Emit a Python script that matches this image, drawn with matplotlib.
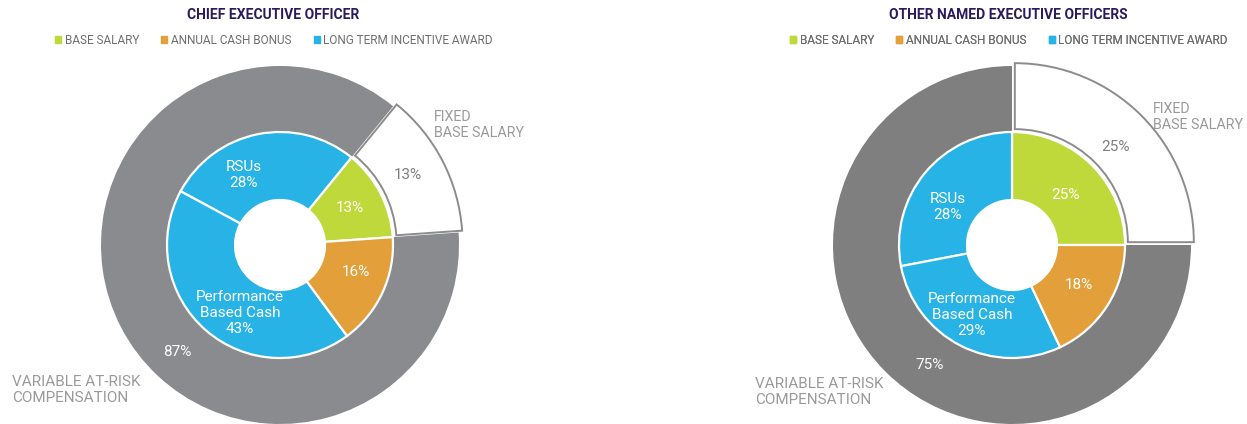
import matplotlib
matplotlib.use('Agg')
import matplotlib.pyplot as plt
from matplotlib.patches import Patch

plt.rcParams['font.family'] = ['Roboto', 'DejaVu Sans']

W, H = 1247, 424

# chart data
titles = ['CHIEF EXECUTIVE OFFICER', 'OTHER NAMED EXECUTIVE OFFICERS']
legend_labels = ['BASE SALARY', 'ANNUAL CASH BONUS', 'LONG TERM INCENTIVE AWARD']
components = ['Base Salary', 'RSUs', 'Performance Based Cash', 'Annual Cash Bonus']
ceo_mix = [13, 28, 43, 16]
neo_mix = [25, 28, 29, 18]
outer_groups = ['FIXED\nBASE SALARY', 'VARIABLE AT-RISK\nCOMPENSATION']
ceo_outer = [13, 87]
neo_outer = [25, 75]

green = '#BFD83A'
orange = '#E3A03A'
blue = '#27B3E6'
navy = '#2A1B5E'
txtgray = '#9A9A9A'
inner_colors = [green, blue, blue, orange]


def Y(y):
    return H - y


fig = plt.figure(figsize=(W / 100, H / 100), dpi=100)
ax = fig.add_axes([0, 0, 1, 1])

charts = [
    # center, start angle, ring gray, data, text positions
    dict(c=(280, 245), start=4, gray='#8A8B8F', mix=ceo_mix, outer=ceo_outer, title=titles[0],
         tx=273, leg=274,
         inner_pos=[(350, 208), (244, 175), (240, 313), (356, 272)],
         wedge_pct=(408, 175), ring_pct=(177, 352),
         fixed_pos=(434, 125), var_pos=(12, 390)),
    dict(c=(1012, 245), start=0, gray='#7F7F7F', mix=neo_mix, outer=neo_outer, title=titles[1],
         tx=1008, leg=1009,
         inner_pos=[(1065, 195), (948, 207), (972, 315), (1079, 285)],
         wedge_pct=(1116, 147), ring_pct=(930, 365),
         fixed_pos=(1153, 117), var_pos=(755, 392)),
]

for ch in charts:
    cx, cy = ch['c'][0], Y(ch['c'][1])

    # outer ring: fixed (white, pulled out) and variable (gray)
    ax.pie(ch['outer'], radius=179, center=(cx, cy), startangle=ch['start'],
           colors=['white', ch['gray']], explode=[4, 0],
           wedgeprops=dict(width=179 - 112, linewidth=0))
    wedges, _ = ax.pie(ch['outer'], radius=179, center=(cx, cy), startangle=ch['start'],
                       colors=['white', 'none'], explode=[4, 0],
                       wedgeprops=dict(width=179 - 113, linewidth=1.4))
    wedges[0].set_edgecolor('#8C8C8C')
    wedges[1].set_edgecolor('none')

    # inner donut
    ax.pie(ch['mix'], radius=113, center=(cx, cy), startangle=ch['start'],
           colors=inner_colors,
           wedgeprops=dict(width=113 - 45, edgecolor='white', linewidth=1.6))

    mix = ch['mix']
    inner_txt = ['%d%%' % mix[0], 'RSUs\n%d%%' % mix[1],
                 'Performance\nBased Cash\n%d%%' % mix[2], '%d%%' % mix[3]]
    for t, (x, y) in zip(inner_txt, ch['inner_pos']):
        ax.text(x, Y(y), t, color='white', fontsize=11, ha='center', va='center',
                linespacing=1.2)

    ax.text(ch['wedge_pct'][0], Y(ch['wedge_pct'][1]), '%d%%' % ch['outer'][0],
            color='#7F7F7F', fontsize=11, ha='center', va='center')
    ax.text(ch['ring_pct'][0], Y(ch['ring_pct'][1]), '%d%%' % ch['outer'][1],
            color='white', fontsize=11, ha='center', va='center')
    ax.text(ch['fixed_pos'][0], Y(ch['fixed_pos'][1]), outer_groups[0],
            color=txtgray, fontsize=10.3, ha='left', va='center', linespacing=1.2)
    ax.text(ch['var_pos'][0], Y(ch['var_pos'][1]), outer_groups[1],
            color=txtgray, fontsize=11, ha='left', va='center', linespacing=1.15)

    ax.text(ch['tx'], Y(15), ch['title'], color=navy, fontsize=10, fontweight='bold',
            ha='center', va='center')

    handles = [Patch(color=c) for c in [green, orange, blue]]
    leg = ax.legend(handles, legend_labels, loc='center', ncol=3, frameon=False,
                    bbox_to_anchor=(ch['leg'] / W, Y(40) / H), bbox_transform=fig.transFigure,
                    fontsize=8.5, handlelength=0.5, handleheight=0.5, handletextpad=0.3,
                    columnspacing=1.9, labelcolor='#6E6E6E')
    ax.add_artist(leg)

ax.set_xlim(0, W)
ax.set_ylim(0, H)
ax.set_aspect('equal')
ax.axis('off')

fig.savefig('out.png', dpi=100)
